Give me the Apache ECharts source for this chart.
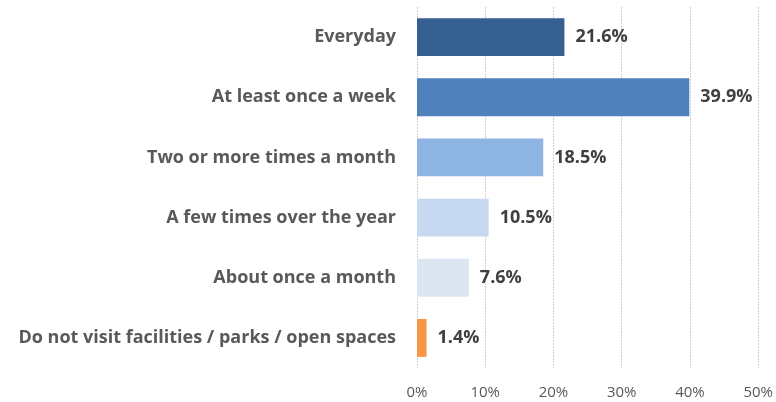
<!DOCTYPE html>
<html>
<head>
<meta charset="utf-8">
<script src="https://cdn.jsdelivr.net/npm/echarts@6/dist/echarts.min.js"></script>
<style>
  html, body { margin: 0; padding: 0; background: #fff; }
  #chart { width: 776px; height: 402px; }
</style>
</head>
<body>
<div id="chart"></div>
<script>
const categories = [
  'Everyday',
  'At least once a week',
  'Two or more times a month',
  'A few times over the year',
  'About once a month',
  'Do not visit facilities / parks / open spaces'
]
const values = [21.6, 39.9, 18.5, 10.5, 7.6, 1.4]
const barColors = ['#355F91', '#4F81BD', '#8DB4E2', '#C6D9F1', '#DCE6F2', '#F79646']
const tickLabels = [0, 10, 20, 30, 40, 50]

const chart = echarts.init(document.getElementById('chart'))

// 配置项
const option = {
  animation: false,
  grid: {
    top: 7,
    bottom: 34,
    left: 417,
    right: 15,
    containLabel: false
  },
  xAxis: {
    type: 'value',
    min: tickLabels[0],
    max: tickLabels[tickLabels.length - 1],
    interval: 10,
    axisLine: { show: false },
    axisTick: { show: false },
    axisLabel: {
      formatter: '{value}%',
      fontFamily: 'Open Sans',
      fontSize: 15,
      color: '#595959',
      margin: 17
    },
    splitLine: {
      lineStyle: { color: '#D0D0D0', width: 1, type: [2, 1] }
    }
  },
  yAxis: {
    type: 'category',
    data: categories,
    inverse: true,
    axisLine: { show: false },
    axisTick: { show: false },
    axisLabel: {
      fontFamily: 'Open Sans',
      fontWeight: 'bold',
      fontSize: 18,
      color: '#595959',
      margin: 21
    }
  },
  series: [
    {
      type: 'bar',
      data: values.map((v, i) => ({ value: v, itemStyle: { color: barColors[i] } })),
      barWidth: '63%',
      label: {
        show: true,
        position: 'right',
        distance: 11,
        formatter: p => p.value.toFixed(1) + '%',
        fontFamily: 'Open Sans',
        fontWeight: 'bold',
        fontSize: 18,
        color: '#404040'
      }
    }
  ]
}
chart.setOption(option)
</script>
</body>
</html>
